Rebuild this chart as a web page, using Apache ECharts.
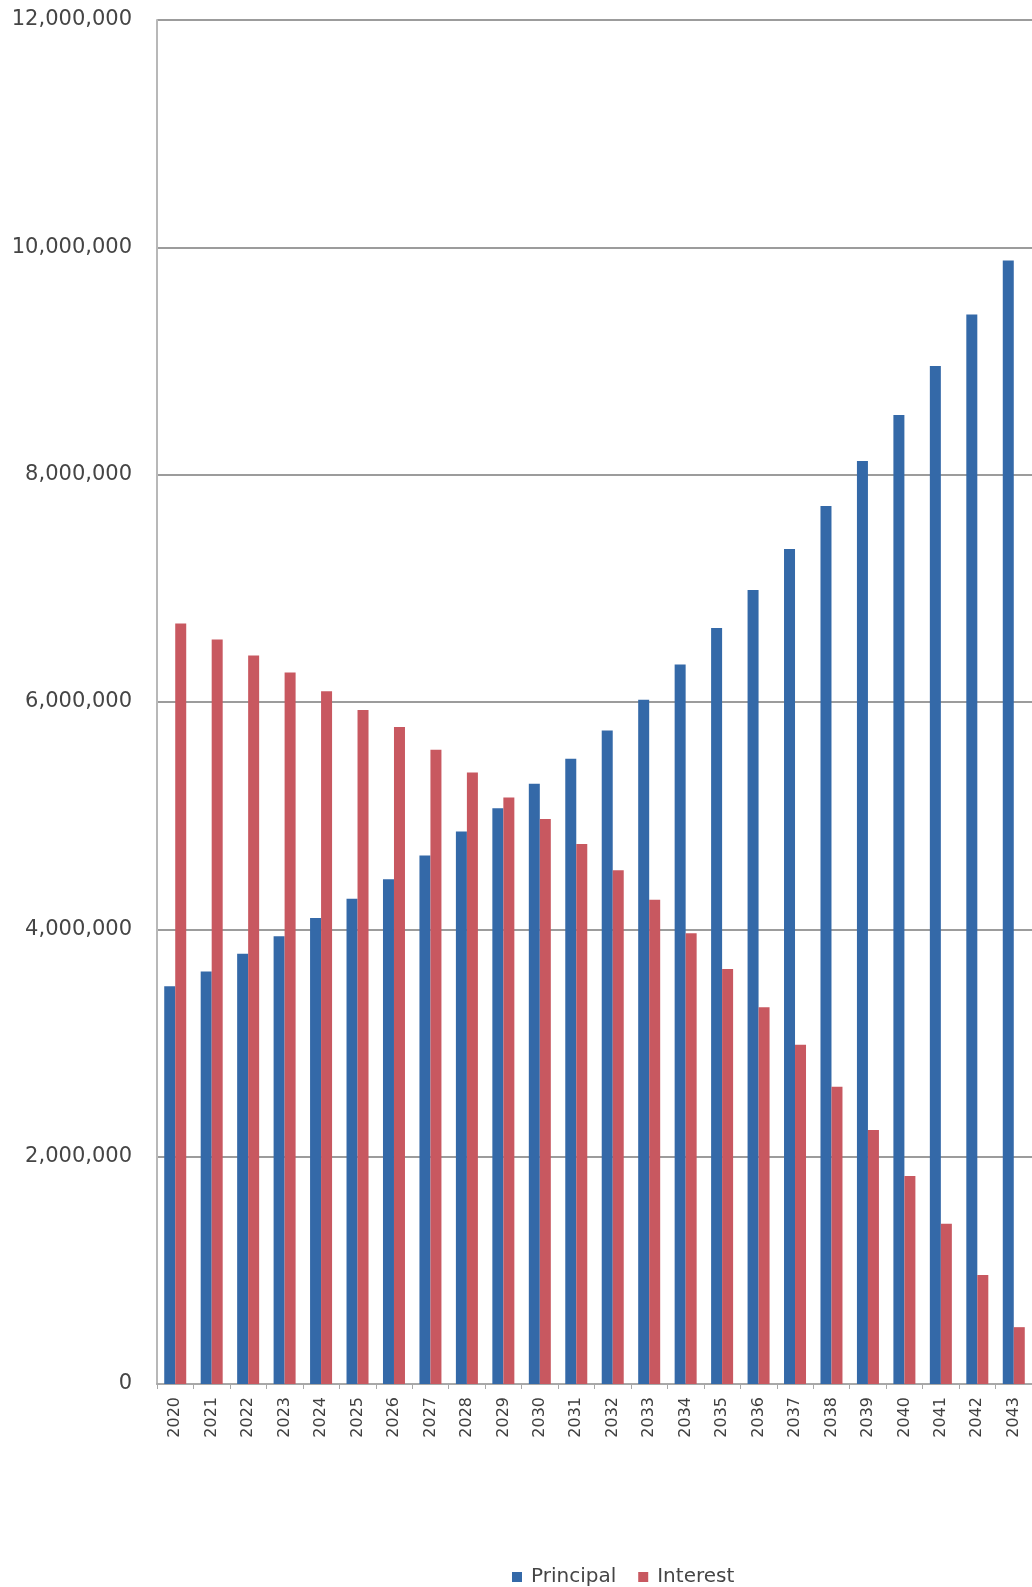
<!DOCTYPE html>
<html>
<head>
<meta charset="utf-8">
<script src="https://cdn.jsdelivr.net/npm/echarts@6/dist/echarts.min.js"></script>
<style>
html,body{margin:0;padding:0;background:#fff;}
#c{width:1032px;height:1587px;}
</style>
</head>
<body>
<div id="c"></div>
<script>
const years = ['2020','2021','2022','2023','2024','2025','2026','2027','2028','2029','2030','2031','2032','2033','2034','2035','2036','2037','2038','2039','2040','2041','2042','2043'];
const principal = [3500000,3630000,3785000,3940000,4100000,4270000,4440000,4650000,4860000,5065000,5280000,5500000,5750000,6020000,6330000,6650000,6985000,7345000,7725000,8120000,8525000,8955000,9410000,9885000];
const interest = [6690000,6550000,6410000,6260000,6095000,5930000,5780000,5580000,5380000,5160000,4970000,4750000,4520000,4260000,3965000,3650000,3315000,2985000,2615000,2235000,1830000,1410000,960000,500000];
const yTicks = [0,2000000,4000000,6000000,8000000,10000000,12000000];

const chart = echarts.init(document.getElementById('c'));
const fmt = v => v.toString().replace(/\B(?=(\d{3})+(?!\d))/g, ',');
chart.setOption({
  animation: false,
  backgroundColor: '#ffffff',
  textStyle: { fontFamily: 'DejaVu Sans' },
  grid: { left: 157, top: 20, width: 883, height: 1364 },
  legend: {
    data: ['Principal', 'Interest'],
    left: 507, top: 1562,
    itemWidth: 10, itemHeight: 10, itemGap: 22,
    icon: 'rect',
    textStyle: { fontFamily: 'DejaVu Sans', fontSize: 20, color: '#454545', padding: [0,0,0,4] }
  },
  xAxis: {
    type: 'category',
    data: years,
    axisLine: { lineStyle: { color: '#a8a8a8', width: 2 } },
    axisTick: { show: true, length: 5, lineStyle: { color: '#a8a8a8' } },
    axisLabel: { rotate: 90, margin: 13, fontSize: 16, color: '#404040', fontFamily: 'DejaVu Sans' },
    splitLine: { show: false }
  },
  yAxis: {
    type: 'value',
    min: yTicks[0], max: yTicks[yTicks.length-1], interval: 2000000,
    axisLine: { show: true, lineStyle: { color: '#b8b8b8', width: 2 } },
    axisTick: { show: false },
    axisLabel: { margin: 25, fontSize: 21, color: '#454545', fontFamily: 'DejaVu Sans', formatter: fmt },
    splitLine: { lineStyle: { color: '#9c9c9c', width: 2 } }
  },
  series: [
    { name: 'Principal', type: 'bar', data: principal, barWidth: 11, barGap: '0%', itemStyle: { color: '#3469a8' } },
    { name: 'Interest', type: 'bar', data: interest, barWidth: 11, barGap: '0%', itemStyle: { color: '#c85860' } }
  ]
});
</script>
</body>
</html>
